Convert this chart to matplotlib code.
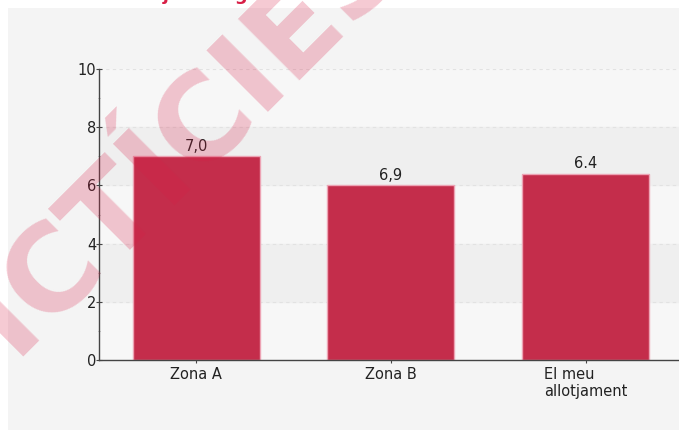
import matplotlib.pyplot as plt
from matplotlib.patches import Rectangle

# Data (bar heights as drawn, labels as printed)
categories = ['Zona A', 'Zona B', 'El meu\nallotjament']
values = [7.0, 6.0, 6.4]
value_labels = ['7,0', '6,9', '6.4']
y_ticks = [0, 2, 4, 6, 8, 10]

bar_color = '#c42d4b'
edge_color = '#eda3b4'

fig = plt.figure(figsize=(6.79, 4.30), dpi=100)
fig.patch.set_facecolor('white')

# grey panel behind the chart
fig.patches.append(Rectangle((8 / 679, 0), 1, 1 - 8 / 430, transform=fig.transFigure,
                             facecolor='#f4f4f4', edgecolor='none', zorder=-5))

# title mostly cut off at the top edge
fig.text(30 / 679, 1 - 0.5 / 430, 'Valoració mitjana segons la zona', color='#d81e46',
         fontsize=13, fontweight='bold', ha='left', va='baseline')

ax = fig.add_axes([99 / 679, 1 - 360 / 430, 1 - 99 / 679, (360 - 69) / 430])
ax.set_facecolor('#f7f7f7')

# alternating bands and dashed grid
for lo in [2, 6]:
    ax.axhspan(lo, lo + 2, color='#efefef', zorder=0)
for t in y_ticks[1:]:
    ax.axhline(t, color='#e2e2e2', linestyle=(0, (3, 3)), linewidth=0.8, zorder=0.5)

x = range(len(categories))
bars = ax.bar(x, values, width=0.653, color=bar_color, edgecolor=edge_color,
              linewidth=1, zorder=2)

for b, lab in zip(bars, value_labels):
    ax.text(b.get_x() + b.get_width() / 2, b.get_height() + 0.08, lab,
            ha='center', va='bottom', fontsize=10.5, color='#222222', zorder=3)

ax.set_xlim(-0.5, 2.48)
ax.set_ylim(0, 10)
ax.set_yticks(y_ticks)
ax.set_yticks([1, 3, 5, 7, 9], minor=True)
ax.set_xticks(list(x))
ax.set_xticklabels(categories, fontsize=10.5, color='#222222', multialignment='left')

for s in ['top', 'right']:
    ax.spines[s].set_visible(False)
for s in ['left', 'bottom']:
    ax.spines[s].set_color('#444444')
    ax.spines[s].set_linewidth(1)

ax.tick_params(axis='y', which='major', direction='inout', length=4, pad=0,
               labelsize=10.5, colors='#444444', labelcolor='#222222')
ax.tick_params(axis='y', which='minor', direction='inout', length=2, colors='#999999')
ax.tick_params(axis='x', direction='inout', length=4, pad=3, colors='#444444',
               labelcolor='#222222')

# watermark
fig.text(8 / 679, 1 - 372 / 430, 'DADES FICTÍCIES', fontsize=86, fontweight='bold',
         color='#d81e46', alpha=0.24, rotation=45, rotation_mode='anchor',
         ha='center', va='baseline', zorder=10)

fig.savefig('out.png', dpi=100)
